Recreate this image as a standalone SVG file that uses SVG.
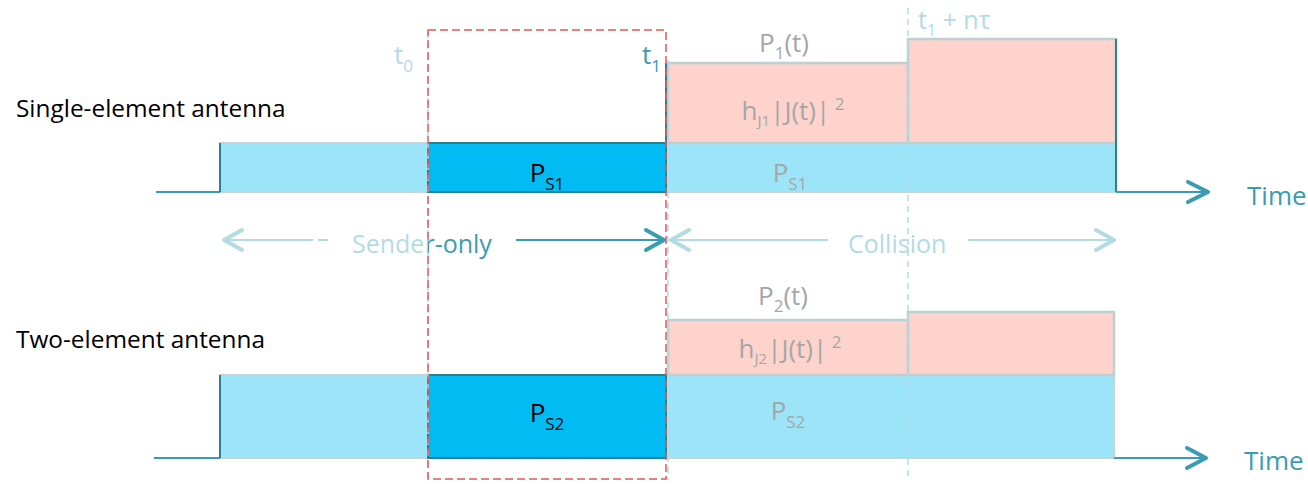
<svg xmlns="http://www.w3.org/2000/svg" width="1308" height="484" viewBox="0 0 1308 484">
<defs>
<linearGradient id="split" gradientUnits="userSpaceOnUse" x1="0" y1="0" x2="1308" y2="0">
  <stop offset="0.3272" stop-color="#b2dbe3"/>
  <stop offset="0.3272" stop-color="#3a9bb3"/>
</linearGradient>
</defs>
<style>
.lbl{font-family:"Open Sans","Liberation Sans",sans-serif;}
.blk{fill:#000;font-size:24.4px;}
.grey{fill:#a6a6a6;font-size:26px;}
.dk{fill:#000;font-size:26px;}
.lt{fill:#b2dbe3;}
.tl{fill:#3a9bb3;}
.sb{fill:#00bcf2;stroke:#2b7e90;stroke-width:2;}
.lb{fill:#9ce5f8;stroke:#c3d3d6;stroke-width:2;}
.pk{fill:#fdd3cc;stroke:#bccfd3;stroke-width:2.5;}
.wave{fill:none;stroke:#3a9bb3;stroke-width:2;}
.wdark{fill:none;stroke:#2e7f8f;stroke-width:2;}
.chev{fill:none;stroke-width:4;stroke-linecap:round;stroke-linejoin:round;}
.vd{stroke:#b2dbe3;stroke-width:1.5;stroke-dasharray:6 5;fill:none;}
.red{fill:none;stroke:#e05a5a;stroke-width:1.5;stroke-dasharray:8 4;}
</style>

<g id="row1">
  <g id="row1-sender-bg"><rect class="lb" x="220" y="143" width="896" height="49"/></g>
  <g id="row1-pink1"><rect class="pk" x="668" y="63" width="240" height="80"/></g>
  <g id="row1-pink2"><rect class="pk" x="908" y="39" width="208" height="104"/></g>
  <g id="row1-sender-only"><rect class="sb" x="428" y="143" width="238" height="49"/></g>
</g>

<g id="row2">
  <g id="row2-sender-bg"><rect class="lb" x="220" y="375" width="894" height="83"/></g>
  <g id="row2-pink1"><rect class="pk" x="668" y="320" width="240" height="55"/></g>
  <g id="row2-pink2"><rect class="pk" x="908" y="312" width="206" height="63"/></g>
  <g id="row2-sender-only"><rect class="sb" x="428" y="375" width="238" height="83"/></g>
</g>

<g id="connectors">
  <path class="wave" d="M156,192 H220"/>
  <path class="wdark" d="M220,192 V143"/>
  <path class="wdark" d="M666,192 V63"/>
  <path class="wdark" d="M1116,39 V192"/>
  <path class="wave" d="M1116,192 H1208"/>
  <path class="chev" stroke="#3a9bb3" d="M1188,182 L1208,192 L1188,202"/>

  <path class="wave" d="M154,458 H220"/>
  <path class="wdark" d="M220,458 V375"/>
  <path class="wave" d="M1114,458 H1206"/>
  <path class="chev" stroke="#3a9bb3" d="M1187,448 L1206,458 L1187,468"/>

  <line class="vd" x1="428" y1="32" x2="428" y2="480"/>
  <line class="vd" x1="668" y1="60" x2="668" y2="480"/>
  <line class="vd" x1="908" y1="8" x2="908" y2="480"/>

  <path fill="none" stroke="#b2dbe3" stroke-width="2" d="M224,240 H313 M318,240 H328"/>
  <path class="chev" stroke="#b2dbe3" d="M242,230 L224,240 L242,250"/>
  <path fill="none" stroke="#3a9bb3" stroke-width="2" d="M516,240 H664"/>
  <path class="chev" stroke="#3a9bb3" d="M646,230 L664,240 L646,250"/>

  <path fill="none" stroke="#b2dbe3" stroke-width="2" d="M670,240 H828 M968,240 H1114"/>
  <path class="chev" stroke="#b2dbe3" d="M689,230 L671,240 L689,250"/>
  <path class="chev" stroke="#b2dbe3" d="M1096,230 L1114,240 L1096,250"/>

  <rect class="red" x="428" y="30" width="238" height="449"/>
</g>

<g id="labels" class="lbl">
  <text class="blk" x="16" y="117">Single-element antenna</text>
  <text class="blk" x="16" y="348">Two-element antenna</text>

  <text class="lt" font-size="26" x="394" y="64">t<tspan font-size="17" dy="8">0</tspan></text>
  <text class="tl" font-size="26" x="642" y="64">t<tspan font-size="17" dy="8">1</tspan></text>
  <text class="lt" font-size="25" x="918" y="29">t<tspan font-size="16" dy="7">1</tspan><tspan dy="-7"> + nτ</tspan></text>

  <text class="grey" text-anchor="middle" x="784" y="52">P<tspan font-size="17" dy="7">1</tspan><tspan dy="-7">(t)</tspan></text>
  <text class="grey" text-anchor="middle" x="793" y="120">h<tspan font-size="15" dy="6">J1</tspan><tspan dy="-6">|J(t)|</tspan><tspan font-size="17" dy="-10"> 2</tspan></text>
  <text class="grey" text-anchor="middle" x="790" y="182">P<tspan font-size="17" dy="8">S1</tspan></text>
  <text class="dk" text-anchor="middle" x="547" y="182">P<tspan font-size="17" dy="8">S1</tspan></text>

  <text class="grey" text-anchor="middle" x="783" y="305">P<tspan font-size="17" dy="7">2</tspan><tspan dy="-7">(t)</tspan></text>
  <text class="grey" text-anchor="middle" x="790" y="358">h<tspan font-size="15" dy="6">J2</tspan><tspan dy="-6">|J(t)|</tspan><tspan font-size="17" dy="-10"> 2</tspan></text>
  <text class="grey" text-anchor="middle" x="788" y="420">P<tspan font-size="17" dy="8">S2</tspan></text>
  <text class="dk" text-anchor="middle" x="547" y="422">P<tspan font-size="17" dy="8">S2</tspan></text>

  <text font-size="25" x="352" y="253" fill="url(#split)">Sender-only</text>
  <text class="lt" font-size="25" x="848" y="253">Collision</text>

  <text class="tl" font-size="26" x="1247" y="205">Time</text>
  <text class="tl" font-size="26" x="1244" y="470">Time</text>
</g>
</svg>
